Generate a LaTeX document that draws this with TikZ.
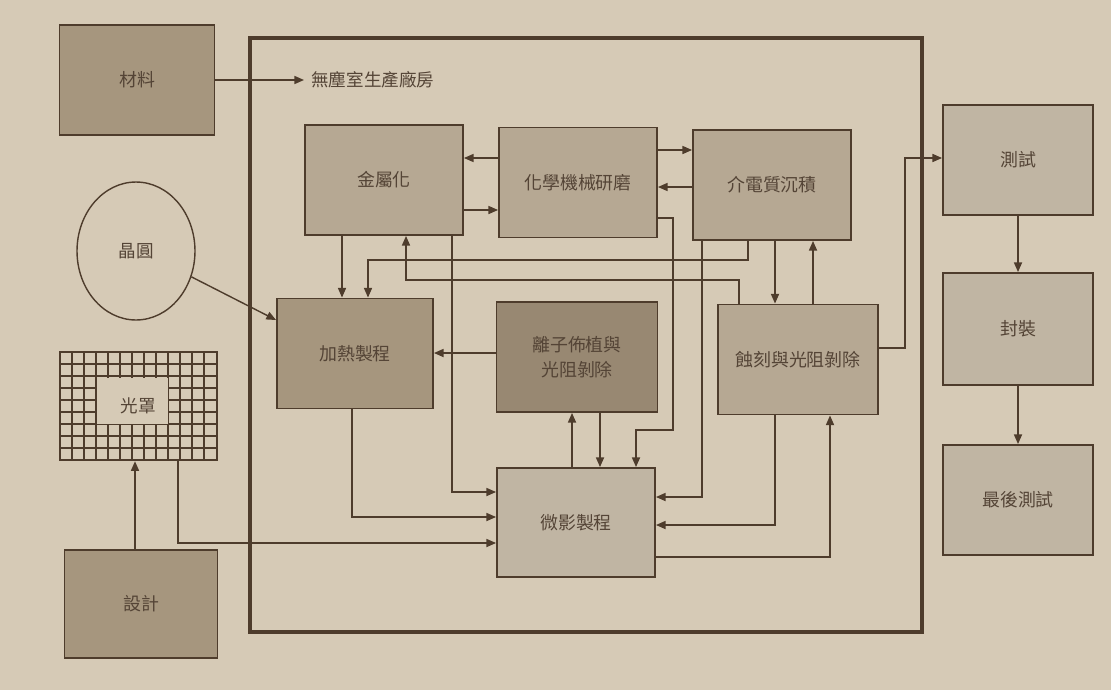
\documentclass[tikz,border=0pt]{standalone}
\usepackage{fontspec}
\newfontfamily\cjk{Noto Sans CJK TC}
\usetikzlibrary{arrows.meta,shapes.geometric}
\definecolor{paper}{RGB}{214,202,182}
\definecolor{inkbrown}{RGB}{78,60,44}
\definecolor{textbrown}{RGB}{84,68,54}
\definecolor{boxmid}{RGB}{182,168,147}
\definecolor{boxdark}{RGB}{166,150,126}
\definecolor{boxdeep}{RGB}{152,136,114}
\definecolor{boxlight}{RGB}{192,181,163}

\begin{document}
\begin{tikzpicture}
        [x=0.02cm, y=-0.02cm,
         inner sep=2pt,
         box/.style={rectangle, draw=inkbrown, line width=1.1pt, fill=boxmid,
                     minimum width=3.16cm, minimum height=2.2cm,
                     text=textbrown, align=center,
                     font=\cjk\fontsize{10.2}{14}\selectfont},
         side/.style={box, fill=boxlight, minimum width=3cm},
         link/.style={draw=inkbrown, line width=0.8pt,
                      -{Triangle[length=5.5pt, width=4.6pt]}}]
        \fill[paper] (0,0) rectangle (1111,690);
        \useasboundingbox (0,0) rectangle (1111,690);

        % clean room frame
        \draw [draw=inkbrown, line width=1.8pt] (250,38) rectangle (922,632);

        % outside inputs
        \node (mat)    at (137,80)   [box, fill=boxdark, minimum width=3.1cm] {材料};
        \node (fab)    at (304,80)   [anchor=west, inner sep=4pt, text=textbrown,
                                      font=\cjk\fontsize{10}{12}\selectfont] {無塵室生產廠房};
        \node (wafer)  at (136,251)  [ellipse, draw=inkbrown, line width=0.8pt, fill=paper,
                                      minimum width=2.36cm, minimum height=2.76cm,
                                      text=textbrown, font=\cjk\fontsize{10}{12}\selectfont] {晶圓};
        \foreach \gx in {72,84,...,204}
            \draw [inkbrown, line width=0.9pt] (\gx,352) -- (\gx,460);
        \foreach \gy in {364,376,...,448}
            \draw [inkbrown, line width=0.9pt] (60,\gy) -- (217,\gy);
        \fill[paper] (97,378) rectangle (168,424);
        \node (mask)   at (138.5,406)[rectangle, draw=inkbrown, line width=1.4pt,
                                      minimum width=3.14cm, minimum height=2.16cm,
                                      text=textbrown, font=\cjk\fontsize{10}{12}\selectfont] {光罩};
        \node (design) at (141,604)  [box, fill=boxdark, minimum width=3.06cm, minimum height=2.16cm] {設計};

        % fab steps
        \node (met)    at (384,180)  [box] {金屬化};
        \node (cmp)    at (578,182.5)[box] {化學機械研磨};
        \node (die)    at (772,185)  [box] {介電質沉積};
        \node (heat)   at (355,353.5)[box, fill=boxdark, minimum width=3.12cm] {加熱製程};
        \node (ion)    at (577,357)  [box, fill=boxdeep, minimum width=3.22cm] {離子佈植與\\光阻剝除};
        \node (etch)   at (798,359.5)[box, minimum width=3.2cm] {蝕刻與光阻剝除};
        \node (litho)  at (576,522.5)[box, fill=boxlight, minimum height=2.18cm] {微影製程};

        % after the fab
        \node (test)   at (1018,160) [side] {測試};
        \node (pack)   at (1018,329) [side, minimum height=2.24cm] {封裝};
        \node (final)  at (1018,500) [side] {最後測試};

        \draw [link] (mat.east) -- (fab.west |- mat.east);
        \draw [link] (wafer.-25) -- (heat.west |- 0,320);
        \draw [link] (design.north -| 135,0) -- (mask.south -| 135,0);
        \draw [link] (mask.south -| 178,0) -- (178,543) -- (litho.west |- 0,543);

        \draw [link] (cmp.west |- 0,158) -- (met.east |- 0,158);
        \draw [link] (met.east |- 0,210) -- (cmp.west |- 0,210);
        \draw [link] (cmp.east |- 0,150) -- (die.west |- 0,150);
        \draw [link] (die.west |- 0,187) -- (cmp.east |- 0,187);
        \draw [link] (met.south -| 342,0) -- (heat.north -| 342,0);
        \draw [link] (die.south -| 748,0) -- (748,260) -- (368,260) -- (heat.north -| 368,0);
        \draw [link] (etch.north -| 739,0) -- (739,280) -- (406,280) -- (met.south -| 406,0);
        \draw [link] (die.south -| 775,0) -- (etch.north -| 775,0);
        \draw [link] (etch.north -| 813,0) -- (die.south -| 813,0);
        \draw [link] (etch.east |- 0,348) -- (905,348) -- (905,158) -- (test.west |- 0,158);
        \draw [link] (ion.west |- 0,353) -- (heat.east |- 0,353);

        \draw [link] (met.south -| 452,0) -- (452,492) -- (litho.west |- 0,492);
        \draw [link] (heat.south -| 352,0) -- (352,517) -- (litho.west |- 0,517);
        \draw [link] (litho.north -| 572,0) -- (ion.south -| 572,0);
        \draw [link] (ion.south -| 600,0) -- (litho.north -| 600,0);
        \draw [link] (cmp.east |- 0,218) -- (673,218) -- (673,430) -- (636,430) -- (litho.north -| 636,0);
        \draw [link] (die.south -| 702,0) -- (702,497) -- (litho.east |- 0,497);
        \draw [link] (etch.south -| 775,0) -- (775,525) -- (litho.east |- 0,525);
        \draw [link] (litho.east |- 0,557) -- (830,557) -- (etch.south -| 830,0);

        \draw [link] (test) -- (pack);
        \draw [link] (pack) -- (final);
    \end{tikzpicture}
\end{document}
